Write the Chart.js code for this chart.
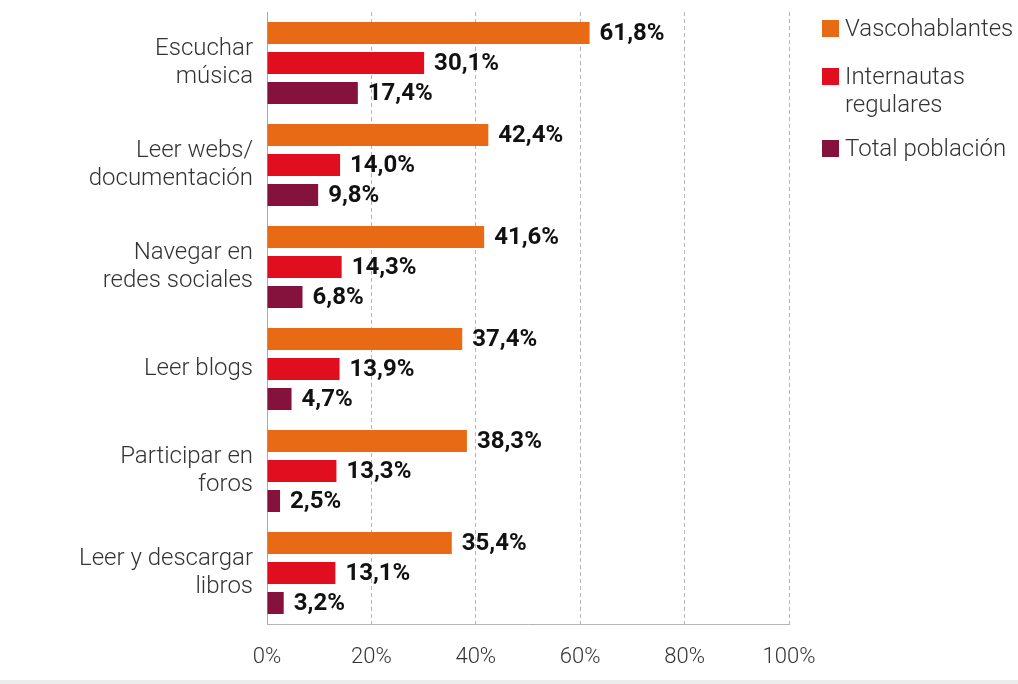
<!DOCTYPE html>
<html><head><meta charset="utf-8">
<script src="https://cdn.jsdelivr.net/npm/chart.js@4/dist/chart.umd.min.js"></script>
<style>
html,body{margin:0;padding:0;background:#fff;}
#wrap{position:relative;width:1018px;height:684px;overflow:hidden;}
#strip{position:absolute;left:0;top:680px;width:1018px;height:4px;background:#ececec;}
.leg{position:absolute;left:822px;font-family:Roboto,sans-serif;font-weight:300;font-size:24px;line-height:28px;color:#333;}
.leg .sw{position:absolute;left:0;width:17px;height:17px;}
.leg .tx{position:absolute;left:23px;white-space:nowrap;}
</style></head><body>
<div id="wrap">
<canvas id="c" width="1018" height="684"></canvas>
<div id="strip"></div>
<div id="legend"></div>
</div>
<script>
const categories = [["Escuchar","música"],["Leer webs/","documentación"],["Navegar en","redes sociales"],["Leer blogs"],["Participar en","foros"],["Leer y descargar","libros"]];
const seriesNames = ["Vascohablantes", ["Internautas","regulares"], "Total población"];
const vascohablantes = [61.8, 42.4, 41.6, 37.4, 38.3, 35.4];
const internautas = [30.1, 14.0, 14.3, 13.9, 13.3, 13.1];
const totalPoblacion = [17.4, 9.8, 6.8, 4.7, 2.5, 3.2];
const xTicks = [0, 20, 40, 60, 80, 100];
const colors = ["#E96A14", "#E00E1E", "#85123C"];

// HTML legend
const legTops = [14, 62, 134];
const legEl = document.getElementById('legend');
seriesNames.forEach((n, i) => {
  const d = document.createElement('div');
  d.className = 'leg';
  d.style.top = legTops[i] + 'px';
  const lines = Array.isArray(n) ? n : [n];
  d.innerHTML = '<div class="sw" style="top:6px;background:' + colors[i] + '"></div><div class="tx">' + lines.join('<br>') + '</div>';
  legEl.appendChild(d);
});

const valueLabels = {
  id: 'valueLabels',
  afterDatasetsDraw(chart) {
    const ctx = chart.ctx;
    ctx.save();
    ctx.font = 'bold 24px Roboto, sans-serif';
    ctx.fillStyle = '#111';
    ctx.textBaseline = 'middle';
    ctx.textAlign = 'left';
    chart.data.datasets.forEach((ds, di) => {
      const meta = chart.getDatasetMeta(di);
      meta.data.forEach((el, i) => {
        const v = ds.data[i];
        ctx.fillText(v.toFixed(1).replace('.', ',') + '%', el.x + 10, el.y + 1);
      });
    });
    ctx.restore();
  }
};

new Chart(document.getElementById('c'), {
  type: 'bar',
  data: {
    labels: categories,
    datasets: [
      {label: 'Vascohablantes', data: vascohablantes, backgroundColor: colors[0]},
      {label: 'Internautas regulares', data: internautas, backgroundColor: colors[1]},
      {label: 'Total población', data: totalPoblacion, backgroundColor: colors[2]}
    ]
  },
  options: {
    indexAxis: 'y',
    responsive: false,
    animation: false,
    events: [],
    categoryPercentage: 0.882,
    barPercentage: 0.733,
    layout: {padding: {top: 12, right: 229, left: 0, bottom: 0}},
    plugins: {legend: {display: false}, tooltip: {enabled: false}},
    scales: {
      x: {
        min: 0, max: 100,
        afterBuildTicks(scale) { scale.ticks = xTicks.map(v => ({value: v})); },
        afterFit(scale) { scale.height = 60; scale.paddingLeft = 0; scale.paddingRight = 0; },
        ticks: {
          color: '#333',
          padding: 20,
          font: {family: 'Roboto', weight: 300, size: 22},
          callback: v => v + '%'
        },
        grid: {color: '#b5b5b5', lineWidth: 1, drawTicks: false},
        border: {display: true, color: '#b5b5b5', width: 1, dash: [4, 3]}
      },
      y: {
        afterFit(scale) { scale.width = 267; scale.paddingTop = 0; scale.paddingBottom = 0; },
        ticks: {
          color: '#333',
          padding: 14,
          font: {family: 'Roboto', weight: 300, size: 24, lineHeight: 1.167}
        },
        grid: {display: false, drawTicks: false},
        border: {display: true, color: '#aaa', width: 1}
      }
    }
  },
  plugins: [valueLabels]
});
</script>
</body></html>
